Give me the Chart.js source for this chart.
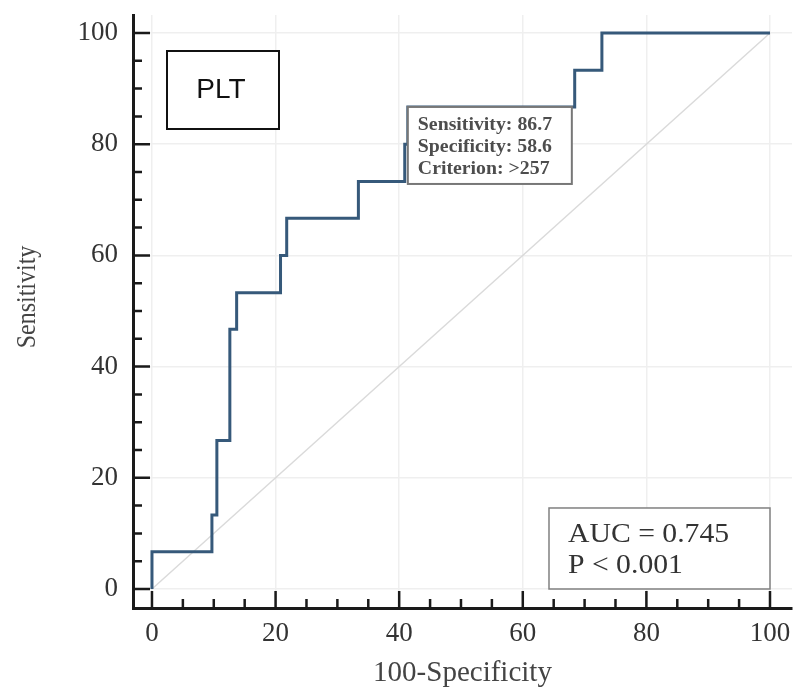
<!DOCTYPE html>
<html>
<head>
<meta charset="utf-8">
<script src="https://cdn.jsdelivr.net/npm/chart.js@4.4.0/dist/chart.umd.min.js"></script>
<style>
  html, body { margin: 0; padding: 0; background: #fff; }
</style>
</head>
<body>
<canvas id="roc" width="797" height="691"></canvas>
<script>
// ROC curve points (top of each vertical step), 100-Specificity vs Sensitivity
const fpr  = [0, 0,   9.7,  10.5, 12.6, 13.7, 20.8, 21.8, 33.4, 40.9, 41.4, 68.4, 72.8, 100];
const sens = [0, 6.7, 13.3, 26.7, 46.7, 53.3, 60.0, 66.7, 73.3, 80.0, 86.7, 93.3, 100, 100];

// reference diagonal
const diagX = [0, 100];
const diagY = [0, 100];

// axis ticks
const majorTicks = [0, 20, 40, 60, 80, 100];
const minorTicks = [5, 10, 15, 25, 30, 35, 45, 50, 55, 65, 70, 75, 85, 90, 95];

// optimal cut-off point and summary texts
const cutoff = { x: 41.4, y: 86.7 };
const cutoffLines = ['Sensitivity: 86.7', 'Specificity: 58.6', 'Criterion: >257'];
const aucLines = ['AUC = 0.745', 'P < 0.001'];
const markerLabel = 'PLT';
const yTitle = 'Sensitivity';

const axisColor = '#1a1a1a';
const serif = "'Liberation Serif', 'Times New Roman', serif";

function stretchedText(ctx, text, x, y, sx) {
    ctx.save();
    ctx.translate(x, y);
    ctx.scale(sx, 1);
    ctx.fillText(text, 0, 0);
    ctx.restore();
}

// tick labels should not push the plot area in
function noEdgePadding(s) {
    s.paddingTop = 0;
    s.paddingBottom = 0;
    s.paddingLeft = 0;
    s.paddingRight = 0;
}

const tickMarks = {
    id: 'tickMarks',
    afterDatasetsDraw(chart) {
        const { ctx, chartArea, scales } = chart;
        ctx.save();
        ctx.strokeStyle = axisColor;
        ctx.lineWidth = 2.5;
        ctx.beginPath();
        majorTicks.concat(minorTicks).forEach(v => {
            const len = majorTicks.includes(v) ? 17 : 9;
            const px = scales.x.getPixelForValue(v);
            ctx.moveTo(px, chartArea.bottom);
            ctx.lineTo(px, chartArea.bottom - len);
            const py = scales.y.getPixelForValue(v);
            ctx.moveTo(chartArea.left, py);
            ctx.lineTo(chartArea.left + len, py);
        });
        ctx.stroke();
        ctx.restore();
    }
};

const boxes = {
    id: 'boxes',
    afterDraw(chart) {
        const { ctx, chartArea, scales } = chart;
        ctx.save();

        // y axis title, a little above the middle as in the original
        ctx.save();
        ctx.translate(28, 297);
        ctx.rotate(-Math.PI / 2);
        ctx.scale(1, 1.15);
        ctx.fillStyle = '#444';
        ctx.font = '24px ' + serif;
        ctx.textAlign = 'center';
        ctx.textBaseline = 'middle';
        ctx.fillText(yTitle, 0, 0);
        ctx.restore();

        // PLT label box
        let bx = chartArea.left + 34, by = chartArea.top + 36;
        ctx.fillStyle = '#fff';
        ctx.fillRect(bx, by, 112, 78);
        ctx.strokeStyle = '#111';
        ctx.lineWidth = 2;
        ctx.strokeRect(bx, by, 112, 78);
        ctx.fillStyle = '#111';
        ctx.font = "28px 'Liberation Sans', Arial, sans-serif";
        ctx.textAlign = 'center';
        ctx.textBaseline = 'middle';
        ctx.fillText(markerLabel, bx + 54, by + 39);

        // cut-off annotation, hung from the cut-off point
        bx = scales.x.getPixelForValue(cutoff.x);
        by = scales.y.getPixelForValue(cutoff.y);
        ctx.fillStyle = '#fff';
        ctx.fillRect(bx, by, 164, 77);
        ctx.strokeStyle = '#777';
        ctx.lineWidth = 2;
        ctx.strokeRect(bx, by, 164, 77);
        ctx.fillStyle = '#4d4d4d';
        ctx.font = 'bold 18px ' + serif;
        ctx.textAlign = 'left';
        ctx.textBaseline = 'alphabetic';
        cutoffLines.forEach((t, i) => stretchedText(ctx, t, bx + 10, by + 23 + i * 22, 1.1));

        // AUC box in the lower right corner
        const right = scales.x.getPixelForValue(100);
        const bottom = scales.y.getPixelForValue(0);
        bx = right - 221;
        by = bottom - 81;
        ctx.fillStyle = '#fff';
        ctx.fillRect(bx, by, 221, 81);
        ctx.strokeStyle = '#808080';
        ctx.lineWidth = 1.5;
        ctx.strokeRect(bx, by, 221, 81);
        ctx.fillStyle = '#333';
        ctx.font = '27px ' + serif;
        aucLines.forEach((t, i) => stretchedText(ctx, t, bx + 19, by + 34 + i * 31, 1.1));

        ctx.restore();
    }
};

new Chart(document.getElementById('roc'), {
    type: 'scatter',
    data: {
        datasets: [
            {
                data: fpr.map((x, i) => ({ x: x, y: sens[i] })),
                showLine: true,
                stepped: 'before',
                borderColor: '#36597a',
                borderWidth: 3,
                pointRadius: 0,
                order: 1
            },
            {
                data: diagX.map((x, i) => ({ x: x, y: diagY[i] })),
                showLine: true,
                borderColor: '#dadada',
                borderWidth: 1.5,
                pointRadius: 0,
                order: 2
            }
        ]
    },
    options: {
        responsive: false,
        animation: false,
        layout: { padding: { top: 15, right: 5, left: 0, bottom: 0 } },
        plugins: { legend: { display: false }, tooltip: { enabled: false } },
        scales: {
            x: {
                type: 'linear',
                min: -3.07,
                max: 103.56,
                afterBuildTicks: s => { s.ticks = majorTicks.map(v => ({ value: v })); },
                afterFit: s => { s.height = 83; noEdgePadding(s); },
                ticks: {
                    color: '#333',
                    padding: 12,
                    font: { family: serif, size: 27, lineHeight: 1 }
                },
                grid: { color: '#efefef', lineWidth: 1.5, drawTicks: false },
                border: { display: true, color: axisColor, width: 3 },
                title: {
                    display: true,
                    text: '100-Specificity',
                    color: '#444',
                    font: { family: serif, size: 29 },
                    padding: { top: 0, bottom: 0 }
                }
            },
            y: {
                type: 'linear',
                min: -3.42,
                max: 103.24,
                afterBuildTicks: s => { s.ticks = majorTicks.map(v => ({ value: v })); },
                afterFit: s => { s.width = 133; noEdgePadding(s); },
                ticks: {
                    color: '#333',
                    padding: 15,
                    font: { family: serif, size: 27, lineHeight: 1 }
                },
                grid: { color: '#efefef', lineWidth: 1.5, drawTicks: false },
                border: { display: true, color: axisColor, width: 3 }
            }
        }
    },
    plugins: [tickMarks, boxes]
});
</script>
</body>
</html>
